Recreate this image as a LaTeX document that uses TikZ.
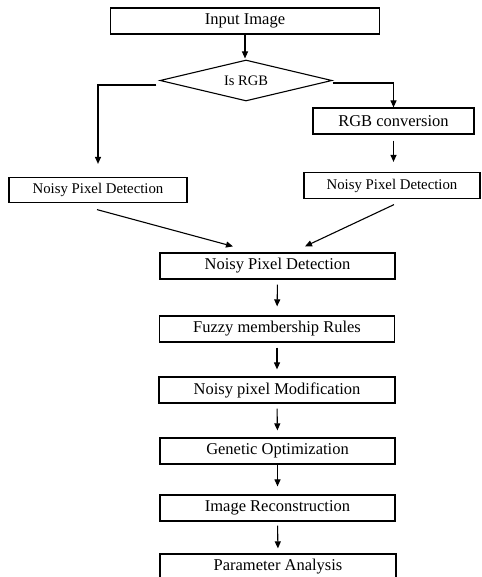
\documentclass[tikz,border=0pt]{standalone}
\usepackage{fontspec}
\setmainfont{Liberation Serif}
\usetikzlibrary{shapes.geometric,arrows.meta}
\begin{document}
\begin{tikzpicture}[x=1pt,y=-1pt,
  box/.style={draw,line width=1.2pt,rectangle,inner sep=0pt,minimum height=26pt,font=\fontsize{16.5}{19}\selectfont},
  smallbox/.style={box,font=\fontsize{14.8}{17}\selectfont},
  arr/.style={line width=1.1pt,-{Triangle[length=7pt,width=6pt]}}]
\useasboundingbox (0,0) rectangle (481,577);
\clip (0,0) rectangle (481,577);
\node[box,minimum width=269pt] (inp) at (245,21) {Input Image};
\node[draw,line width=1.1pt,shape=diamond,aspect=4.2,inner sep=0pt,minimum width=172pt,minimum height=41pt,font=\fontsize{14.5}{17}\selectfont] (dia) at (246,80.5) {Is RGB};
\node[box,minimum width=161pt] (rgb) at (393.5,121) {RGB conversion};
\node[smallbox,minimum width=176pt] (rnd) at (392,185.5) {Noisy Pixel Detection};
\node[smallbox,minimum width=178pt,minimum height=25pt] (lnd) at (98,190) {Noisy Pixel Detection};
\node[box,minimum width=235pt] (mid) at (277.5,266) {Noisy Pixel Detection};
\node[box,minimum width=235pt] (fuz) at (277,329) {Fuzzy membership Rules};
\node[box,minimum width=236pt] (mod) at (277,390) {Noisy pixel Modification};
\node[box,minimum width=235pt] (gen) at (277.5,451) {Genetic Optimization};
\node[box,minimum width=235pt] (rec) at (277.5,508) {Image Reconstruction};
\node[box,minimum width=236pt] (par) at (278,567) {Parameter Analysis};
\draw[arr,shorten >=1pt] (inp.south) -- (inp.south |- dia.north);
\draw[arr,shorten >=13pt] ([xshift=-3pt,yshift=-4.5pt]dia.west) -| (lnd.north);
\draw[arr] ([yshift=-2.5pt]dia.east) -| (rgb.north);
\draw[arr,shorten <=6pt,shorten >=10pt] (rgb.south) -- (rgb.south |- rnd.north);
\draw[arr] ([xshift=-1pt,yshift=-6.5pt]lnd.south) -- ([xshift=-44.5pt,yshift=6pt]mid.north);
\draw[arr] ([xshift=2pt,yshift=-5.5pt]rnd.south) -- ([xshift=27.5pt,yshift=6pt]mid.north);
\draw[arr,shorten <=5pt,shorten >=9pt] (mid.south) -- (fuz.north);
\draw[arr,shorten <=5pt,shorten >=7pt] (fuz.south) -- (mod.north);
\draw[arr,shorten <=5pt,shorten >=7pt] (mod.south) -- (gen.north);
\draw[arr,shorten >=8pt] (gen.south) -- (rec.north);
\draw[arr,shorten <=4pt,shorten >=5pt] (rec.south) -- (par.north);
\end{tikzpicture}
\end{document}
